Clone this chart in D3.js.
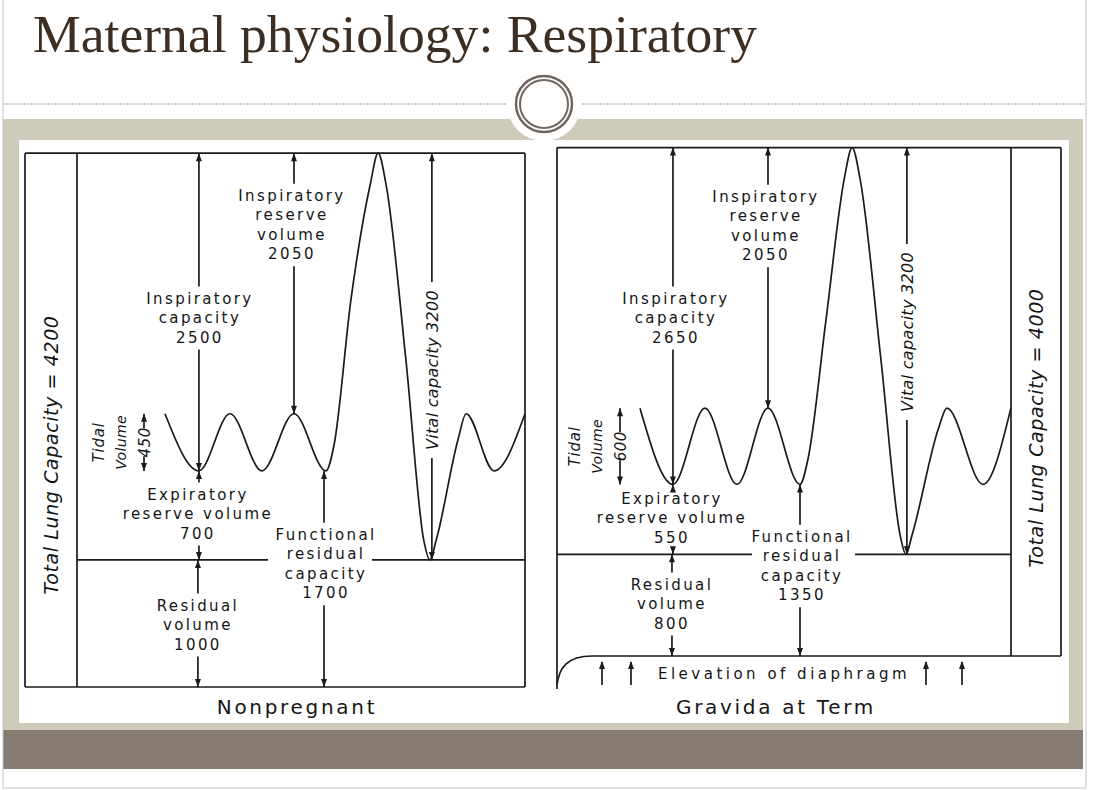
<!DOCTYPE html>
<html>
<head>
<meta charset="utf-8">
<script src="https://cdn.jsdelivr.net/npm/d3@7"></script>
<style>
  html, body { margin: 0; padding: 0; background: #fff; }
  svg { display: block; }
  .lbl { font-family: "DejaVu Sans", sans-serif; font-size: 15px; letter-spacing: 2.4px; fill: #151515; }
  .rot { font-family: "DejaVu Sans", sans-serif; font-style: italic; fill: #151515; }
  .ink { stroke: #1a1a1a; stroke-width: 1.7; fill: none; }
</style>
</head>
<body>
<script>
//-----------------Data----------------

const panelNames = ["Nonpregnant", "Gravida at Term"];
const volumeKeys = ["tlc", "ic", "irv", "tv", "erv", "rv", "frc", "vc"];
const nonpregnantVolumes = [4200, 2500, 2050, 450, 700, 1000, 1700, 3200];
const gravidaVolumes = [4000, 2650, 2050, 600, 550, 800, 1350, 3200];

// spirogram trace: time (breath half-cycles) and lung volume (mL)
const nonpregnantTime = [0, 1.06, 2.03, 3.03, 4.03, 5.03, 5.28, 5.81, 6.41, 6.66, 6.91, 7.53, 8.09, 8.28, 8.47, 9.16, 9.41, 10.28, 11.25];
const nonpregnantTrace = [2150, 1700, 2150, 1700, 2150, 1700, 1900, 3045, 3950, 4200, 3950, 2570, 1150, 1000, 1150, 1950, 2150, 1700, 2150];
const gravidaTime = [0, 1.03, 2.03, 3.03, 4.0, 5.0, 5.25, 5.81, 6.38, 6.63, 6.88, 7.53, 8.13, 8.31, 8.5, 9.34, 9.59, 10.72, 11.59];
const gravidaTrace = [1950, 1350, 1950, 1350, 1950, 1350, 1550, 2640, 3750, 4000, 3750, 2330, 950, 800, 950, 1800, 1950, 1350, 1950];

//-----------------Page frame----------------

const width = 1100;
const height = 790;

const svg = d3.select("body").append("svg").attr("width", width).attr("height", height);

svg.append("rect").attr("x", 3).attr("y", 119).attr("width", 1080).attr("height", 611).attr("fill", "#cfcbbb");
svg.append("rect").attr("x", 19).attr("y", 140).attr("width", 1050).attr("height", 583).attr("fill", "#fff");
svg.append("rect").attr("x", 3).attr("y", 730).attr("width", 1080).attr("height", 39).attr("fill", "#857b70");

svg.append("line").attr("x1", 3).attr("x2", 1086).attr("y1", 104).attr("y2", 104)
  .attr("stroke", "#9a9a9a").attr("stroke-dasharray", "2,1");
[3, 1086].forEach((x) => {
  svg.append("line").attr("x1", x).attr("x2", x).attr("y1", 0).attr("y2", 788).attr("stroke", "#c4c4c4");
});
svg.append("line").attr("x1", 3).attr("x2", 1086).attr("y1", 788).attr("y2", 788).attr("stroke", "#c4c4c4");

svg.append("circle").attr("cx", 544).attr("cy", 104).attr("r", 37).attr("fill", "#fff");
svg.append("circle").attr("cx", 544).attr("cy", 104).attr("r", 28).attr("fill", "none").attr("stroke", "#6e655f").attr("stroke-width", 2.5);
svg.append("circle").attr("cx", 544).attr("cy", 104).attr("r", 24).attr("fill", "none").attr("stroke", "#6e655f").attr("stroke-width", 2);

svg.append("text")
  .text("Maternal physiology: Respiratory")
  .attr("x", 33)
  .attr("y", 52)
  .attr("textLength", 724)
  .attr("lengthAdjust", "spacingAndGlyphs")
  .style("font-family", "'Liberation Serif', serif")
  .style("font-size", "52px")
  .style("fill", "#3d2e22");

//-----------------Helpers----------------

function head(g, x, y, dir) {
  const s = dir === "up" ? 1 : -1;
  g.append("path").attr("d", `M${x},${y}L${x - 3},${y + 8 * s}L${x + 3},${y + 8 * s}Z`).attr("fill", "#1a1a1a");
}

function arrowV(g, x, yTop, yBot, gap) {
  const segs = gap ? [[yTop, gap[0]], [gap[1], yBot]] : [[yTop, yBot]];
  segs.forEach((s) => {
    if (s[1] > s[0]) g.append("line").attr("class", "ink").attr("x1", x).attr("x2", x).attr("y1", s[0]).attr("y2", s[1]);
  });
  head(g, x, yTop, "up");
  head(g, x, yBot, "down");
}

function labelBlock(g, x, cy, lines) {
  const step = 19.5;
  lines.forEach((t, i) => {
    g.append("text")
      .attr("class", "lbl")
      .attr("x", x)
      .attr("y", cy + (i - (lines.length - 1) / 2) * step)
      .attr("text-anchor", "middle")
      .attr("dominant-baseline", "central")
      .text(t);
  });
  const half = ((lines.length - 1) * step) / 2 + 12;
  return [cy - half, cy + half];
}

function rotText(g, x, cy, txt, size, spacing) {
  g.append("text")
    .attr("class", "rot")
    .attr("transform", `translate(${x},${cy}) rotate(-90)`)
    .attr("text-anchor", "middle")
    .attr("dominant-baseline", "central")
    .style("font-size", size + "px")
    .style("letter-spacing", spacing + "px")
    .text(txt);
}

//-----------------Panels----------------

function buildPanel(cfg) {
  const v = {};
  volumeKeys.forEach((k, i) => (v[k] = cfg.volumes[i]));
  const x = d3.scaleLinear().domain([0, 1]).range([cfg.t0, cfg.t0 + 32]);
  const y = d3.scaleLinear().domain([0, v.tlc]).range([cfg.bottom, cfg.bottom - v.tlc * 0.1271]);
  const g = svg.append("g");
  const top = y(v.tlc);
  const y0 = y(0);

  // frame
  g.append("line").attr("class", "ink").attr("x1", cfg.left).attr("x2", cfg.right).attr("y1", top).attr("y2", top);
  g.append("line").attr("class", "ink").attr("x1", cfg.left).attr("x2", cfg.left).attr("y1", top).attr("y2", cfg.leftBottom);
  g.append("line").attr("class", "ink").attr("x1", cfg.right).attr("x2", cfg.right).attr("y1", top).attr("y2", y0);
  g.append("line").attr("class", "ink").attr("x1", cfg.inner).attr("x2", cfg.inner).attr("y1", top).attr("y2", y0);
  if (cfg.diaphragm) {
    g.append("path").attr("class", "ink")
      .attr("d", `M${cfg.left},${cfg.leftBottom - 4}C${cfg.left + 2},${y0 + 12} ${cfg.left + 10},${y0} ${cfg.left + 35},${y0}L${cfg.right},${y0}`);
  } else {
    g.append("line").attr("class", "ink").attr("x1", cfg.left).attr("x2", cfg.right).attr("y1", y0).attr("y2", y0);
  }

  // residual volume level line (broken by the FRC label)
  g.append("line").attr("class", "ink").attr("x1", cfg.rvFrom).attr("x2", cfg.rvGap[0]).attr("y1", y(v.rv)).attr("y2", y(v.rv));
  g.append("line").attr("class", "ink").attr("x1", cfg.rvGap[1]).attr("x2", cfg.rvTo).attr("y1", y(v.rv)).attr("y2", y(v.rv));

  // spirogram
  const line = d3.line().x((d) => x(d[0])).y((d) => y(d[1])).curve(d3.curveMonotoneX);
  g.append("path").attr("class", "ink").attr("stroke-width", 1.9).attr("d", line(d3.zip(cfg.time, cfg.trace)));

  // inspiratory capacity
  const xIC = x(cfg.tIC);
  arrowV(g, xIC, top, y(v.frc), labelBlock(g, xIC + cfg.dxIC, 318, ["Inspiratory", "capacity", v.ic]));
  // inspiratory reserve volume
  const xIRV = x(cfg.tIRV);
  arrowV(g, xIRV, top, y(v.frc + v.tv), labelBlock(g, xIRV - 2, cfg.irvY, ["Inspiratory", "reserve", "volume", v.irv]));
  // expiratory reserve volume
  arrowV(g, xIC, y(v.frc), y(v.rv), labelBlock(g, xIC - 1, cfg.ervY, ["Expiratory", "reserve volume", v.erv]));
  // residual volume
  const xRV = xIC - 1;
  arrowV(g, xRV, y(v.rv), y0, labelBlock(g, xRV, cfg.rvY, ["Residual", "volume", v.rv]));
  // functional residual capacity
  const xFRC = x(cfg.tFRC);
  arrowV(g, xFRC, y(v.frc), y0, labelBlock(g, xFRC + 2, cfg.frcY, ["Functional", "residual", "capacity", v.frc]));
  // vital capacity
  const xVC = x(cfg.tVC);
  rotText(g, xVC + 1, cfg.vcY, `Vital capacity ${v.vc}`, 16, 0.3);
  arrowV(g, xVC, top, y(v.tlc - v.vc), [cfg.vcY - 88, cfg.vcY + 88]);
  // tidal volume
  const tvMid = (y(v.frc) + y(v.frc + v.tv)) / 2;
  rotText(g, cfg.tvX, tvMid, "Tidal", 15, 0.8);
  rotText(g, cfg.tvX + 22, tvMid, "Volume", 14, 0.4);
  rotText(g, cfg.tvX + 46, tvMid, v.tv, 15, 0.5);
  arrowV(g, cfg.tvX + 45, y(v.frc + v.tv), y(v.frc), [tvMid - 14, tvMid + 14]);
  // total lung capacity
  rotText(g, cfg.tlcX, cfg.tlcY, `Total Lung Capacity = ${v.tlc}`, 19, 0.6);

  // panel name
  g.append("text")
    .attr("class", "lbl")
    .attr("x", cfg.nameX)
    .attr("y", 707)
    .attr("text-anchor", "middle")
    .attr("dominant-baseline", "central")
    .style("font-size", "20px")
    .style("letter-spacing", "2.7px")
    .text(cfg.name);

  return { g, x, y };
}

buildPanel({
  name: panelNames[0], volumes: nonpregnantVolumes, time: nonpregnantTime, trace: nonpregnantTrace,
  t0: 165, bottom: 687, left: 25, right: 525, inner: 77, leftBottom: 687, diaphragm: false,
  rvFrom: 77, rvTo: 525, rvGap: [268, 372],
  tIC: 1.06, dxIC: 1, tIRV: 4.03, tFRC: 4.97, tVC: 8.34,
  irvY: 225, ervY: 514, rvY: 625, frcY: 564, vcY: 370,
  tvX: 99, tlcX: 51, tlcY: 455, nameX: 297
});

const right = buildPanel({
  name: panelNames[1], volumes: gravidaVolumes, time: gravidaTime, trace: gravidaTrace,
  t0: 640, bottom: 656, left: 557, right: 1061, inner: 1011, leftBottom: 689, diaphragm: true,
  rvFrom: 557, rvTo: 1011, rvGap: [752, 855],
  tIC: 1.03, dxIC: 3, tIRV: 4.0, tFRC: 5.0, tVC: 8.34,
  irvY: 226, ervY: 518, rvY: 604, frcY: 566, vcY: 332,
  tvX: 575, tlcX: 1036, tlcY: 428, nameX: 776
});

//-----------------Elevation of diaphragm----------------

right.g.append("text")
  .attr("class", "lbl")
  .attr("x", 784)
  .attr("y", 674)
  .attr("text-anchor", "middle")
  .attr("dominant-baseline", "central")
  .style("letter-spacing", "3.5px")
  .text("Elevation of diaphragm");

[602, 631, 926, 962].forEach((ax) => {
  right.g.append("line").attr("class", "ink").attr("x1", ax).attr("x2", ax).attr("y1", 662).attr("y2", 685);
  head(right.g, ax, 661, "up");
});
</script>
</body>
</html>
